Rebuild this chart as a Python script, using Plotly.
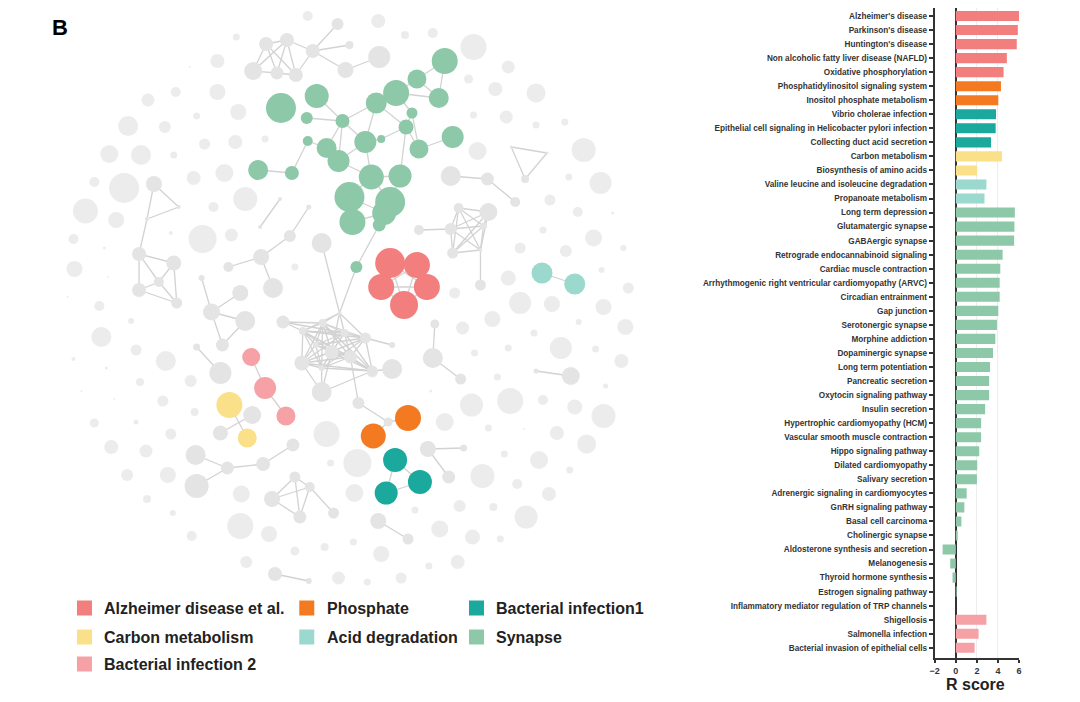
import plotly.graph_objects as go

PAGE_W, PAGE_H = 1080, 702
OFF = 8                      # default body margin of the html page
W, H = PAGE_W - 2 * OFF, PAGE_H - 2 * OFF
FONT = "Liberation Sans, Arial, sans-serif"


def px_x(p):
    return (p - OFF) / W


def px_y(p):
    return 1 - (p - OFF) / H


# ---------------- groups / colours ----------------
group_keys = ["AD", "PH", "BI1", "CM", "ACID", "SYN", "BI2"]
group_names = ["Alzheimer disease et al.", "Phosphate", "Bacterial infection1",
               "Carbon metabolism", "Acid degradation", "Synapse", "Bacterial infection 2"]
group_colors = ["#F27E7E", "#F37A21", "#1BA89D", "#FBE08A", "#9BD8CE", "#8DC8A9", "#F5A1A6"]
GRAY = "#E4E4E4"
color_of = dict(zip(group_keys, group_colors))
color_of["gray"] = GRAY

# ---------------- bar chart data ----------------
pathways = [
    "Alzheimer's disease", "Parkinson's disease", "Huntington's disease",
    "Non alcoholic fatty liver disease (NAFLD)", "Oxidative phosphorylation",
    "Phosphatidylinositol signaling system", "Inositol phosphate metabolism",
    "Vibrio cholerae infection", "Epithelial cell signaling in Helicobacter pylori infection",
    "Collecting duct acid secretion", "Carbon metabolism", "Biosynthesis of amino acids",
    "Valine leucine and isoleucine degradation", "Propanoate metabolism",
    "Long term depression", "Glutamatergic synapse", "GABAergic synapse",
    "Retrograde endocannabinoid signaling", "Cardiac muscle contraction",
    "Arrhythmogenic right ventricular cardiomyopathy (ARVC)", "Circadian entrainment",
    "Gap junction", "Serotonergic synapse", "Morphine addiction", "Dopaminergic synapse",
    "Long term potentiation", "Pancreatic secretion", "Oxytocin signaling pathway",
    "Insulin secretion", "Hypertrophic cardiomyopathy (HCM)",
    "Vascular smooth muscle contraction", "Hippo signaling pathway",
    "Dilated cardiomyopathy", "Salivary secretion", "Adrenergic signaling in cardiomyocytes",
    "GnRH signaling pathway", "Basal cell carcinoma", "Cholinergic synapse",
    "Aldosterone synthesis and secretion", "Melanogenesis", "Thyroid hormone synthesis",
    "Estrogen signaling pathway", "Inflammatory mediator regulation of TRP channels",
    "Shigellosis", "Salmonella infection", "Bacterial invasion of epithelial cells",
]
r_score = [
    6.0, 5.88, 5.78, 4.84, 4.53,
    4.28, 4.03,
    3.81, 3.78, 3.34,
    4.38, 2.03,
    2.9, 2.72,
    5.6, 5.56, 5.53, 4.44, 4.22, 4.16, 4.16, 4.03, 3.9, 3.75, 3.53, 3.25, 3.16, 3.16,
    2.78, 2.4, 2.4, 2.22, 2.03, 2.0, 1.03, 0.81, 0.53, 0.12, -1.25, -0.53, -0.31,
    0.02, 0.0,
    2.9, 2.16, 1.78,
]
bar_group = (["AD"] * 5 + ["PH"] * 2 + ["BI1"] * 3 + ["CM"] * 2 + ["ACID"] * 2
             + ["SYN"] * 29 + ["BI2"] * 3)

# ---------------- network data (layout coordinates) ----------------
node_id = [
    "u1", "u2", "u3", "u4", "u5", "u6", "u7", "u8", "u9", "u10",
    "g1", "g2", "g3", "g4", "g5", "g6", "g7", "g8", "g9", "g10", "g11", "g12", "g13", "g14",
    "g15", "g16", "g17", "g18", "g19", "g20", "g21", "g22", "g23", "g24", "g25", "g26",
    "g27", "g28",
    "h0", "h1", "h2", "h3", "h4", "h5", "h6", "h7", "h8", "h9", "h10", "h11", "h12", "h13",
    "h14", "h15", "h16", "h17",
    "r1", "r2", "r3", "r4", "r5", "o1", "o2", "t1", "t2", "t3", "a1", "a2",
    "y1", "y2", "y3", "y4", "p1", "p2", "p3",
    "ta", "tb", "tc", "l1", "l2", "l3", "l4", "l5", "m1", "m2", "m3", "m4", "m5",
    "s1", "s2", "k1", "k2", "k3", "k4", "k5", "n1", "n2", "w1", "w2", "w3", "w4", "w5",
    "q1", "q2", "q3", "q4", "q5", "b1", "b2", "e1", "e2", "e3", "tr1", "tr2", "tr3",
    "c1", "c2", "c3", "c4", "c5", "c6", "c7", "c8", "v1", "v2", "v3", "x1", "x2",
    "z1", "z2", "z3", "j1", "j2",
]
node_x = [
    263, 284, 310, 335, 347, 343, 250, 274, 293, 377,
    278, 314, 304, 340, 305, 324, 336, 255, 289, 347, 350, 354, 443, 415,
    437, 394, 374, 410, 404, 379, 363, 417, 451, 369, 398, 388,
    382, 377,
    337, 320, 300, 342, 363, 313, 329, 348, 299, 319, 370, 319, 280, 319,
    390, 356, 386, 390,
    388, 415, 379, 425, 402, 406, 371, 393, 418, 384, 541, 574,
    226, 244, 249, 217, 248, 262, 283,
    150, 175, 143, 135, 170, 155, 135, 173, 198, 208, 237, 242, 219,
    277, 257, 306, 287, 258, 225, 270, 193, 217, 192, 224, 260, 290, 193,
    269, 292, 307, 297, 331, 272, 306, 449, 486, 514, 510, 546, 524,
    457, 487, 449, 482, 451, 479, 479, 417, 433, 431, 459, 535, 570,
    426, 462, 447, 376, 406,
]
node_y = [
    44, 40, 51, 24, 45, 70, 71, 73, 75, 57,
    108, 96, 118, 121, 141, 148, 161, 170, 173, 197, 222, 267, 61, 79,
    98, 93, 103, 113, 127, 139, 142, 149, 137, 177, 176, 202,
    213, 225,
    313, 323, 331, 333, 338, 345, 352, 357, 363, 368, 371, 392, 322, 243,
    345, 403, 422, 369,
    263, 265, 287, 287, 305, 418, 436, 460, 482, 493, 273, 284,
    405, 438, 415, 433, 357, 388, 416,
    184, 207, 219, 254, 263, 282, 290, 303, 278, 312, 293, 321, 345,
    199, 227, 207, 236, 257, 267, 288, 347, 373, 455, 468, 464, 445, 486,
    499, 477, 487, 517, 513, 574, 581, 176, 179, 202, 147, 153, 179,
    208, 212, 229, 226, 253, 250, 285, 230, 324, 358, 379, 371, 376,
    449, 448, 477, 521, 539,
]
node_r = [
    7, 7, 7, 6, 4, 8, 9, 6.5, 7, 11,
    15, 12, 6, 7, 5, 10, 11, 10, 7, 15, 13, 6, 13, 9.5,
    10, 13, 10.5, 5.5, 7.5, 4, 11, 9.5, 11, 12.5, 11.5, 15,
    12, 6.5,
    2, 4, 4, 4, 5.5, 3, 7, 6.5, 7.5, 3, 5.5, 10, 6.5, 10,
    3, 6, 4.5, 10,
    15, 13, 13, 13, 14, 13, 12.5, 12, 12, 11.5, 10.5, 10.5,
    13, 9.5, 9, 7.5, 9, 11, 9.5,
    8, 2, 2, 7, 7.5, 5, 7, 5.5, 3, 8.5, 8, 10, 6.5,
    2, 2, 2.5, 6, 8, 5, 10, 3.5, 11, 10, 6.5, 7, 6.5, 12,
    8, 5.5, 5, 6.5, 5.5, 7, 3, 10, 6.5, 5, 1.5, 1.5, 4,
    5, 9, 6, 3.5, 5.5, 2, 5.5, 5, 4.5, 10, 5.5, 2.5, 9,
    8, 3.5, 6.5, 8, 5.5,
]
node_group = (
    ["gray"] * 10 + ["SYN"] * 28 + ["gray"] * 18
    + ["AD"] * 5 + ["PH"] * 2 + ["BI1"] * 3 + ["ACID"] * 2
    + ["CM"] * 2 + ["gray"] * 2 + ["BI2"] * 3
    + ["gray"] * (len(node_id) - 75)
)

_hub_ring = ["h1", "h2", "h3", "h4", "h5", "h6", "h7", "h8", "h9", "h10"]
_c_ring = ["c1", "c2", "c3", "c4", "c5", "c6"]
_red = ["r1", "r2", "r3", "r4", "r5"]
edges = [
    ("u1", "u2"), ("u1", "u7"), ("u1", "u8"), ("u1", "u9"), ("u2", "u8"), ("u2", "u9"),
    ("u2", "u3"), ("u7", "u8"), ("u8", "u9"), ("u3", "u4"), ("u3", "u5"), ("u3", "u6"),
    ("u3", "u9"), ("u6", "u10"), ("u7", "u2"),
    ("g2", "g4"), ("g3", "g4"), ("g5", "g9"), ("g8", "g9"), ("g5", "g6"), ("g4", "g6"),
    ("g4", "g7"), ("g4", "g21"), ("g6", "g7"), ("g7", "g21"), ("g7", "g24"), ("g4", "g17"),
    ("g17", "g16"), ("g16", "g14"), ("g14", "g13"), ("g13", "g15"), ("g14", "g15"),
    ("g16", "g15"), ("g16", "g18"), ("g17", "g19"), ("g18", "g19"), ("g18", "g22"),
    ("g19", "g22"), ("g22", "g23"), ("g19", "g20"), ("g20", "g21"), ("g21", "g17"),
    ("g21", "g24"), ("g24", "g25"), ("g25", "g19"), ("g24", "g10"), ("g24", "g26"),
    ("g25", "g26"), ("g10", "g11"), ("g10", "g27"), ("g11", "g27"), ("g26", "g27"),
    ("g27", "g28"), ("g28", "g12"), ("g12", "h0"),
    ("h0", "h1"), ("h0", "h2"), ("h0", "h3"), ("h0", "h4"), ("h0", "h6"), ("h0", "h13"),
    ("h12", "h1"), ("h12", "h3"), ("h12", "h2"),
    ("h8", "h11"), ("h9", "h11"), ("h6", "h11"), ("h10", "h11"), ("h4", "h14"),
    ("h10", "h17"), ("h7", "h15"), ("h15", "h16"), ("h16", "o1"), ("h16", "o2"),
    ("t1", "t3"), ("t3", "t2"), ("t1", "t2"), ("a1", "a2"), ("y1", "y2"), ("y3", "y4"),
    ("p1", "p2"), ("p2", "p3"),
    ("ta", "tb"), ("tb", "tc"), ("tc", "ta"), ("tc", "l1"),
    ("l1", "l2"), ("l1", "l3"), ("l1", "l4"), ("l2", "l3"), ("l2", "l5"), ("l3", "l4"),
    ("l4", "l5"), ("l3", "l5"),
    ("m1", "m2"), ("m2", "m3"), ("m2", "m4"), ("m4", "m5"), ("m2", "m5"),
    ("s1", "s2"), ("k1", "k2"), ("k2", "k3"), ("k3", "k4"), ("k3", "k5"), ("n1", "n2"),
    ("w1", "w2"), ("w2", "w3"), ("w3", "w4"), ("w2", "w5"),
    ("q1", "q2"), ("q1", "q3"), ("q1", "q4"), ("q2", "q4"), ("q3", "q4"), ("q3", "q5"),
    ("q2", "q3"), ("b1", "b2"),
    ("e1", "e2"), ("e2", "e3"), ("tr1", "tr2"), ("tr2", "tr3"), ("tr3", "tr1"),
    ("c6", "c7"), ("c3", "c8"), ("v1", "v2"), ("v2", "v3"), ("x1", "x2"),
    ("z1", "z2"), ("z1", "z3"), ("j1", "j2"),
]
edges += [(a, b) for i, a in enumerate(_hub_ring) for b in _hub_ring[i + 1:]]
edges += [(a, b) for i, a in enumerate(_c_ring) for b in _c_ring[i + 1:]]
edges += [(a, b) for i, a in enumerate(_red) for b in _red[i + 1:]]

# isolated (unconnected) gray nodes
iso_x = [305, 376, 233, 214, 186, 172, 214, 144, 193, 235, 124, 161, 201, 232, 262, 105, 137, 170,
         221, 190, 90, 120, 81, 112, 242, 210, 69, 100, 167, 199, 228, 292, 70, 104,
         403, 431, 472, 507, 467, 494, 535, 472, 505, 535, 564, 476, 583, 568, 600, 549, 577,
         612, 593, 542, 519, 565, 623, 507, 601, 628, 453, 519,
         95, 127, 97, 63, 132, 162, 69, 102, 136, 77, 110, 159, 191, 90, 132, 167, 107, 142,
         123, 164, 143, 169, 188, 187, 324, 328, 355, 238, 237, 266, 352, 351, 322, 292, 243,
         336,
         461, 491, 533, 578, 560, 595, 621, 473, 507, 496, 551, 603, 625, 605, 429, 470, 509,
         542, 574, 603, 443, 487, 523, 556, 586, 481, 503, 538, 569, 516, 548, 413, 458, 492,
         525, 438, 471, 499, 379, 456, 427, 365, 399, 370]
iso_y = [16, 21, 37, 61, 67, 92, 92, 100, 116, 112, 126, 127, 144, 142, 139, 154, 155, 155,
         173, 178, 182, 188, 211, 220, 199, 207, 239, 248, 233, 239, 235, 267, 269, 277,
         35, 33, 47, 67, 79, 89, 93, 115, 117, 125, 122, 151, 150, 177, 183, 200, 212,
         213, 238, 230, 248, 251, 248, 278, 270, 288, 293, 303,
         306, 321, 337, 297, 350, 361, 359, 368, 382, 391, 399, 401, 412, 423, 422, 434, 447,
         451, 475, 475, 499, 513, 536, 381, 434, 463, 463, 494, 526, 534, 493, 542, 547, 551,
         562, 578,
         328, 319, 333, 322, 348, 349, 361, 353, 348, 377, 304, 307, 327, 386, 391, 405, 401,
         400, 407, 416, 422, 428, 429, 433, 444, 476, 454, 460, 470, 484, 494, 510, 506, 507,
         517, 529, 537, 539, 554, 562, 566, 582, 578, 372]
iso_r = [5, 7, 3.5, 7, 1, 5, 8, 6.5, 3.5, 8, 10, 6, 5.5, 7, 3.5, 9, 10, 3.5,
         9, 7, 5, 15, 12.5, 8, 12, 5, 5, 1.5, 2, 14, 6.5, 3.5, 8, 1,
         4, 5, 13, 6.5, 4.5, 7, 9.5, 3.5, 6.5, 3.5, 3.5, 9, 12, 3.5, 11, 5.5, 5,
         1.5, 8.5, 3.5, 5.5, 6, 3, 7.5, 3, 5.5, 5.5, 11,
         5, 3, 10, 1, 5.5, 10, 2, 1.5, 4, 1, 1, 5.5, 4, 4.5, 2.5, 5.5, 7,
         6.5, 6, 8, 4, 3, 5, 6, 13, 3.5, 14, 8.5, 13, 8, 9, 3.5, 4, 4.5,
         6, 6.5,
         6.5, 8, 3.5, 3, 11, 3.5, 7, 3.5, 3.5, 3.5, 8, 8, 8, 2.5, 1.5, 11.5, 13,
         5, 7.5, 12, 9, 3.5, 1, 7, 9.5, 12, 3.5, 9, 3.5, 5, 7, 3.5, 6, 4,
         11.5, 8.5, 7.5, 3.5, 8, 7, 3.5, 3.5, 5.5, 5.5]

# legend layout (row-major, 3 columns)
legend_order = ["AD", "PH", "BI1", "CM", "ACID", "SYN", "BI2"]

# ---------------- build figure ----------------
fig = go.Figure()

pos = {n: (x, y) for n, x, y in zip(node_id, node_x, node_y)}
ex, ey = [], []
for a, b in edges:
    ex += [pos[a][0], pos[b][0], None]
    ey += [pos[a][1], pos[b][1], None]
fig.add_trace(go.Scatter(x=ex, y=ey, mode="lines", line=dict(color="#D2D2D2", width=1.3),
                         hoverinfo="skip", xaxis="x", yaxis="y"))

fig.add_trace(go.Scatter(x=iso_x, y=iso_y, mode="markers",
                         marker=dict(size=[2 * r for r in iso_r], color=GRAY, line=dict(width=0)),
                         xaxis="x", yaxis="y"))

gray_idx = [i for i, g in enumerate(node_group) if g == "gray"]
col_idx = [i for i, g in enumerate(node_group) if g != "gray"]
for idx in (gray_idx, col_idx):
    fig.add_trace(go.Scatter(
        x=[node_x[i] for i in idx], y=[node_y[i] for i in idx], mode="markers",
        marker=dict(size=[2 * node_r[i] for i in idx],
                    color=[color_of[node_group[i]] for i in idx], line=dict(width=0), opacity=1),
        text=[node_id[i] for i in idx], hoverinfo="text", xaxis="x", yaxis="y"))

# legend (squares + text) laid out in the network panel
LEG_COL_X = [80, 304, 475]
LEG_ROW_Y = [608, 637, 664]
for k, key in enumerate(legend_order):
    col, row = k % 3, k // 3
    gi = group_keys.index(key)
    fig.add_trace(go.Scatter(x=[LEG_COL_X[col]], y=[LEG_ROW_Y[row]], mode="markers",
                             marker=dict(symbol="square", size=15, color=group_colors[gi]),
                             hoverinfo="skip", xaxis="x", yaxis="y"))
    fig.add_annotation(x=LEG_COL_X[col] + 18, y=LEG_ROW_Y[row], xref="x", yref="y",
                       text=group_names[gi], showarrow=False, xanchor="left", yanchor="middle",
                       font=dict(family=FONT, size=16, color="#222", weight="bold"))

# bar chart
fig.add_trace(go.Bar(
    x=r_score, y=pathways, orientation="h", width=0.72,
    marker=dict(color=[color_of[g] for g in bar_group], line=dict(width=0)),
    xaxis="x2", yaxis="y2"))

fig.add_annotation(x=px_x(55), y=px_y(27), xref="paper", yref="paper", text="B",
                   xanchor="center", yanchor="middle",
                   showarrow=False, font=dict(family=FONT, size=22, color="#000", weight="bold"))
fig.add_annotation(x=px_x(978), y=0, xref="paper", yref="paper", text="R score",
                   xanchor="center", yanchor="bottom", borderpad=0,
                   showarrow=False, font=dict(family=FONT, size=16, color="#222", weight="bold"))

n = len(pathways)
BAR_TOP, BAR_BOTTOM, ROW0, ROW_STEP = OFF, 657.7, 16, 14.04
fig.update_layout(
    width=W, height=H, margin=dict(l=0, r=0, t=0, b=0),
    paper_bgcolor="white", plot_bgcolor="white", showlegend=False,
    xaxis=dict(domain=[0, 700 / W], range=[OFF, OFF + 700], visible=False, fixedrange=True),
    yaxis=dict(domain=[0, 1], range=[OFF + H, OFF], visible=False, fixedrange=True),
    xaxis2=dict(domain=[px_x(936.7), px_x(1021.7)], anchor="y2", range=[-2, 6],
                tickvals=[-2, 0, 2, 4, 6], showgrid=True, gridcolor="#EDEDED", gridwidth=1,
                zeroline=True, zerolinecolor="#333", zerolinewidth=2,
                showline=True, linecolor="#333", linewidth=2,
                ticks="outside", ticklen=3, tickwidth=1.5, tickcolor="#333",
                tickfont=dict(family=FONT, size=9, color="#333", weight="bold")),
    yaxis2=dict(domain=[px_y(BAR_BOTTOM), px_y(BAR_TOP)], anchor="x2", type="category",
                categoryorder="array", categoryarray=pathways,
                range=[(BAR_BOTTOM - ROW0) / ROW_STEP, -(ROW0 - BAR_TOP) / ROW_STEP],
                autorange=False, showgrid=False,
                showline=True, linecolor="#333", linewidth=2,
                ticks="outside", ticklen=4, tickwidth=1.5, tickcolor="#333",
                tickfont=dict(family=FONT, size=8.2, color="#333", weight="bold")),
)

fig.write_html("out.html")
